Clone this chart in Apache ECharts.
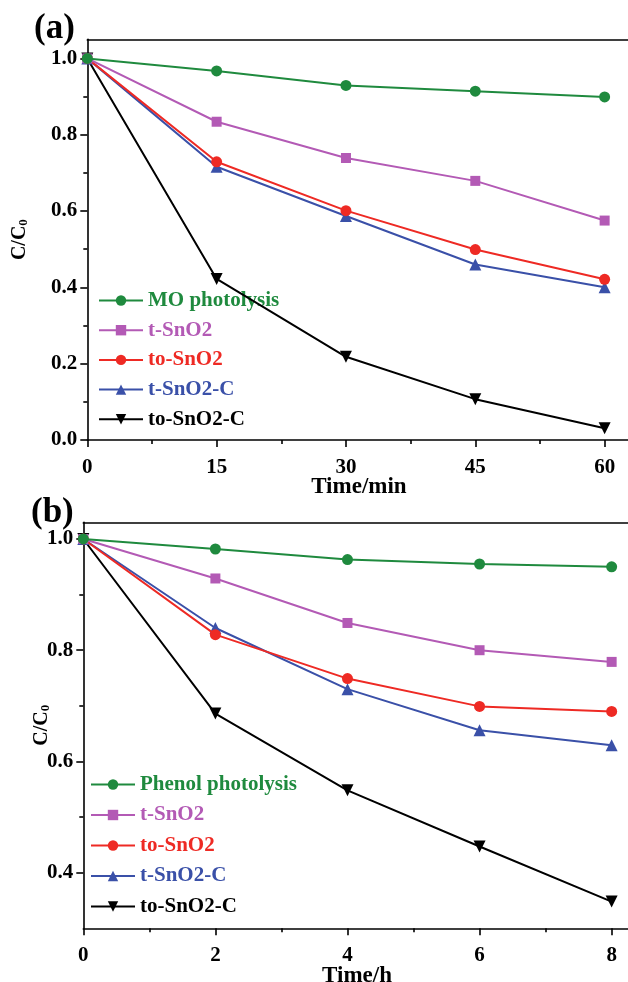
<!DOCTYPE html>
<html>
<head>
<meta charset="utf-8">
<script src="https://cdn.jsdelivr.net/npm/echarts@6/dist/echarts.min.js"></script>
<style>html,body{margin:0;padding:0;background:#fff;}#c{width:628px;height:982px;}</style>
</head>
<body>
<div id="c"></div>
<script>
// ---- data (a) ----
const timeA = [0, 15, 30, 45, 60];
const moPhotolysis = [1.0, 0.967, 0.929, 0.914, 0.899];
const tSnO2A = [1.0, 0.834, 0.739, 0.679, 0.575];
const toSnO2A = [1.0, 0.729, 0.601, 0.499, 0.421];
const tSnO2CA = [1.0, 0.716, 0.587, 0.460, 0.400];
const toSnO2CA = [1.0, 0.422, 0.218, 0.107, 0.031];
// ---- data (b) ----
const timeB = [0, 2, 4, 6, 8];
const phenolPhotolysis = [1.0, 0.982, 0.963, 0.955, 0.950];
const tSnO2B = [1.0, 0.929, 0.849, 0.800, 0.779];
const toSnO2B = [1.0, 0.828, 0.749, 0.699, 0.690];
const tSnO2CB = [1.0, 0.840, 0.730, 0.656, 0.629];
const toSnO2CB = [1.0, 0.686, 0.548, 0.447, 0.348];
// ---- ticks ----
const xTicksA = [0, 15, 30, 45, 60];
const xMinorA = [7.5, 22.5, 37.5, 52.5];
const yTicksA = [0.0, 0.2, 0.4, 0.6, 0.8, 1.0];
const yMinorA = [0.1, 0.3, 0.5, 0.7, 0.9];
const xTicksB = [0, 2, 4, 6, 8];
const xMinorB = [1, 3, 5, 7];
const yTicksB = [0.4, 0.6, 0.8, 1.0];
const yMinorB = [0.5, 0.7, 0.9];

const namesA = ['MO photolysis', 't-SnO2', 'to-SnO2', 't-SnO2-C', 'to-SnO2-C'];
const namesB = ['Phenol photolysis', 't-SnO2', 'to-SnO2', 't-SnO2-C', 'to-SnO2-C'];
const colors = ['#1f8a3e', '#b35ab5', '#ee2a24', '#3a50a8', '#000000'];
const symbols = ['circle', 'rect', 'circle', 'triangle', 'triangle'];
const rotations = [0, 0, 0, 0, 180];
const sizes = [11, 10, 11, 12, 12];

const FONT = 'Liberation Serif';
const lineStyle = {color: '#000', width: 1.6};

function mainX(grid, min, max, ticks, name, gap) {
  return {
    gridIndex: grid, type: 'value', position: 'bottom', min: min, max: max,
    axisLine: {show: true, onZero: false, lineStyle: lineStyle},
    axisTick: {show: true, inside: false, length: 7, customValues: ticks, lineStyle: lineStyle},
    axisLabel: {show: true, customValues: ticks, margin: 17, color: '#000', fontFamily: FONT, fontWeight: 'bold', fontSize: 21},
    splitLine: {show: false},
    name: name, nameLocation: 'middle', nameGap: gap, nameMoveOverlap: false,
    nameTextStyle: {color: '#000', fontFamily: FONT, fontWeight: 'bold', fontSize: 23}
  };
}
function minorX(grid, min, max, ticks) {
  return {
    gridIndex: grid, type: 'value', position: 'bottom', min: min, max: max,
    axisLine: {show: false, onZero: false},
    axisTick: {show: true, inside: false, length: 4, customValues: ticks, lineStyle: lineStyle},
    axisLabel: {show: false}, splitLine: {show: false}
  };
}
function borderX(grid, min, max) {
  return {
    gridIndex: grid, type: 'value', position: 'top', min: min, max: max,
    axisLine: {show: true, onZero: false, lineStyle: lineStyle},
    axisTick: {show: false}, axisLabel: {show: false}, splitLine: {show: false}
  };
}
function mainY(grid, min, max, ticks, gap) {
  return {
    gridIndex: grid, type: 'value', position: 'left', min: min, max: max,
    axisLine: {show: true, onZero: false, lineStyle: lineStyle},
    axisTick: {show: true, inside: false, length: 7, customValues: ticks, lineStyle: lineStyle},
    axisLabel: {show: true, customValues: ticks, margin: 10, color: '#000', fontFamily: FONT, fontWeight: 'bold', fontSize: 21,
      formatter: v => v.toFixed(1)},
    splitLine: {show: false},
    name: 'C/C{s|0}', nameLocation: 'middle', nameGap: gap, nameMoveOverlap: false,
    nameTextStyle: {color: '#000', fontFamily: FONT, fontWeight: 'bold', fontSize: 20,
      rich: {s: {fontFamily: FONT, fontWeight: 'bold', fontSize: 13, padding: [7, 0, 0, 0], color: '#000'}}}
  };
}
function minorY(grid, min, max, ticks) {
  return {
    gridIndex: grid, type: 'value', position: 'left', min: min, max: max,
    axisLine: {show: false, onZero: false},
    axisTick: {show: true, inside: false, length: 4, customValues: ticks, lineStyle: lineStyle},
    axisLabel: {show: false}, splitLine: {show: false}
  };
}
function borderY(grid, min, max) {
  return {
    gridIndex: grid, type: 'value', position: 'right', min: min, max: max,
    axisLine: {show: true, onZero: false, lineStyle: lineStyle},
    axisTick: {show: false}, axisLabel: {show: false}, splitLine: {show: false}
  };
}

const XMAX_A = 63.0, XMAX_B = 8.29;
const YMIN_A = 0, YMAX_A = 1.05, YMIN_B = 0.3, YMAX_B = 1.03;

function makeSeries(names, xs, arrays, xi, yi) {
  return names.map((n, i) => ({
    name: n, type: 'line', xAxisIndex: xi, yAxisIndex: yi,
    data: xs.map((x, j) => [x, arrays[i][j]]),
    symbol: symbols[i], symbolSize: sizes[i], symbolRotate: rotations[i],
    showAllSymbol: true, z: 10 - i,
    lineStyle: {color: colors[i], width: 2},
    itemStyle: {color: colors[i]},
    emphasis: {disabled: true}
  }));
}

function makeLegend(names, left, top, gap) {
  return {
    orient: 'vertical', left: left, top: top, itemGap: gap, itemWidth: 44, itemHeight: 13,
    padding: 0, selectedMode: false,
    data: names.map((n, i) => ({name: n, textStyle: {color: colors[i]}})),
    textStyle: {fontFamily: FONT, fontWeight: 'bold', fontSize: 21, lineHeight: 20, padding: [0, 0, 0, 0]}
  };
}

const chart = echarts.init(document.getElementById('c'), null, {renderer: 'canvas'});
chart.setOption({
  backgroundColor: '#fff',
  animation: false,
  grid: [
    {left: 87.3, top: 39.3, width: 543.2, height: 400.7, containLabel: false, outerBoundsMode: 'none'},
    {left: 83.3, top: 522.3, width: 547.5, height: 406, containLabel: false, outerBoundsMode: 'none'}
  ],
  xAxis: [
    mainX(0, 0, XMAX_A, xTicksA, 'Time/min', 36),
    minorX(0, 0, XMAX_A, xMinorA),
    borderX(0, 0, XMAX_A),
    mainX(1, 0, XMAX_B, xTicksB, 'Time/h', 36),
    minorX(1, 0, XMAX_B, xMinorB),
    borderX(1, 0, XMAX_B)
  ],
  yAxis: [
    mainY(0, YMIN_A, YMAX_A, yTicksA, 57),
    minorY(0, YMIN_A, YMAX_A, yMinorA),
    borderY(0, YMIN_A, YMAX_A),
    mainY(1, YMIN_B, YMAX_B, yTicksB, 31),
    minorY(1, YMIN_B, YMAX_B, yMinorB),
    borderY(1, YMIN_B, YMAX_B)
  ],
  legend: [
    makeLegend(namesA, 98, 290, 8.7),
    makeLegend(namesB, 90, 774, 9.5)
  ],
  series: [].concat(
    makeSeries(namesA, timeA, [moPhotolysis, tSnO2A, toSnO2A, tSnO2CA, toSnO2CA], 0, 0),
    makeSeries(namesB, timeB, [phenolPhotolysis, tSnO2B, toSnO2B, tSnO2CB, toSnO2CB], 3, 3)
  ),
  graphic: [
    {type: 'text', left: 34, top: 11, style: {text: '(a)', fontFamily: FONT, fontWeight: 'bold', fontSize: 35, fill: '#000'}},
    {type: 'text', left: 31, top: 495, style: {text: '(b)', fontFamily: FONT, fontWeight: 'bold', fontSize: 35, fill: '#000'}}
  ]
});
</script>
</body>
</html>
